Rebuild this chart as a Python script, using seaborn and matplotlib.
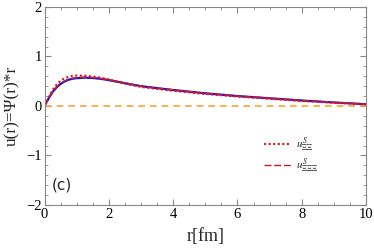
import numpy as np
import pandas as pd
import matplotlib
matplotlib.use("Agg")
import matplotlib.pyplot as plt
import seaborn as sns
from matplotlib.ticker import MultipleLocator

r = [0, 0.125, 0.25, 0.375, 0.5, 0.625, 0.75, 0.875, 1.0, 1.25, 1.5, 1.75, 2.0, 2.5, 3.0, 3.5, 4.0, 5.0, 6.0, 7.0, 8.0, 9.0, 10.0]
u_blue = [0, 0.15, 0.28, 0.375, 0.445, 0.495, 0.53, 0.55, 0.562, 0.572, 0.565, 0.548, 0.522, 0.46, 0.40, 0.36, 0.322, 0.255, 0.20, 0.155, 0.11, 0.07, 0.035]
u_dot = [0, 0.17, 0.32, 0.43, 0.51, 0.56, 0.59, 0.607, 0.615, 0.612, 0.595, 0.57, 0.535, 0.45, 0.385, 0.343, 0.307, 0.242, 0.19, 0.145, 0.10, 0.065, 0.035]
u_dash = [0, 0.155, 0.29, 0.385, 0.455, 0.505, 0.54, 0.56, 0.572, 0.58, 0.573, 0.554, 0.527, 0.463, 0.402, 0.362, 0.324, 0.257, 0.202, 0.157, 0.112, 0.071, 0.035]
zero = [0.0] * len(r)
labels = [r"$u^{S}_{\Xi\Xi}$", r"$u^{S}_{\Xi\Xi\Xi}$"]

sns.set_style("ticks")
plt.rcParams['font.family'] = ['Liberation Serif', 'DejaVu Serif']
plt.rcParams['mathtext.fontset'] = 'stix'

fig = plt.figure(figsize=(3.74, 2.49), dpi=100)
ax = fig.add_axes([0.119, 0.177, 0.860, 0.795])

df = pd.DataFrame({"r": r, "blue": u_blue, "dot": u_dot, "dash": u_dash, "zero": zero})

sns.lineplot(data=df, x="r", y="zero", ax=ax, color="#ffa238", lw=1.2, linestyle=(0, (4, 3)))
sns.lineplot(data=df, x="r", y="blue", ax=ax, color="#0a14ee", lw=1.6)
sns.lineplot(data=df, x="r", y="dash", ax=ax, color="#c81e1e", lw=1.0, linestyle=(0, (5, 2)), label=labels[1])
sns.lineplot(data=df, x="r", y="dot", ax=ax, color="#ee1111", lw=1.5, linestyle=(0, (1, 1.2)), label=labels[0])

ax.set_xlim(0, 10)
ax.set_ylim(-2, 2)
ax.xaxis.set_major_locator(MultipleLocator(2))
ax.xaxis.set_minor_locator(MultipleLocator(0.5))
ax.yaxis.set_major_locator(MultipleLocator(1))
ax.yaxis.set_minor_locator(MultipleLocator(0.2))
ax.tick_params(which='both', direction='in', top=True, right=True, colors='#888888',
               labelcolor='black', labelsize=10.5, pad=2)
ax.tick_params(which='major', length=4, width=0.8)
ax.tick_params(which='minor', length=2, width=0.6)
for s in ax.spines.values():
    s.set_color('#888888')
    s.set_linewidth(0.8)

ax.set_xticks([0, 2, 4, 6, 8, 10])
ax.set_xticklabels(["0", "2", "4", "6", "8", "10"])
ax.set_yticks([-2, -1, 0, 1, 2])
ax.set_yticklabels(["\u22122", "\u22121", "0", "1", "2"])

ax.set_xlabel("r[fm]", fontsize=13, labelpad=5)
ax.set_ylabel("u(r)=\u03a8(r)*r", fontsize=12.5, labelpad=4)

ax.text(0.23, -1.6, "(c)", fontsize=11, family='DejaVu Sans', va='center')

h, l = ax.get_legend_handles_labels()
order = [1, 0]
ax.legend([h[i] for i in order], [l[i] for i in order], loc='center left', bbox_to_anchor=(0.65, 0.25),
          frameon=False, fontsize=8, handlelength=2.5, handletextpad=0.4, labelspacing=0.25)

fig.savefig("out.png", dpi=100)
